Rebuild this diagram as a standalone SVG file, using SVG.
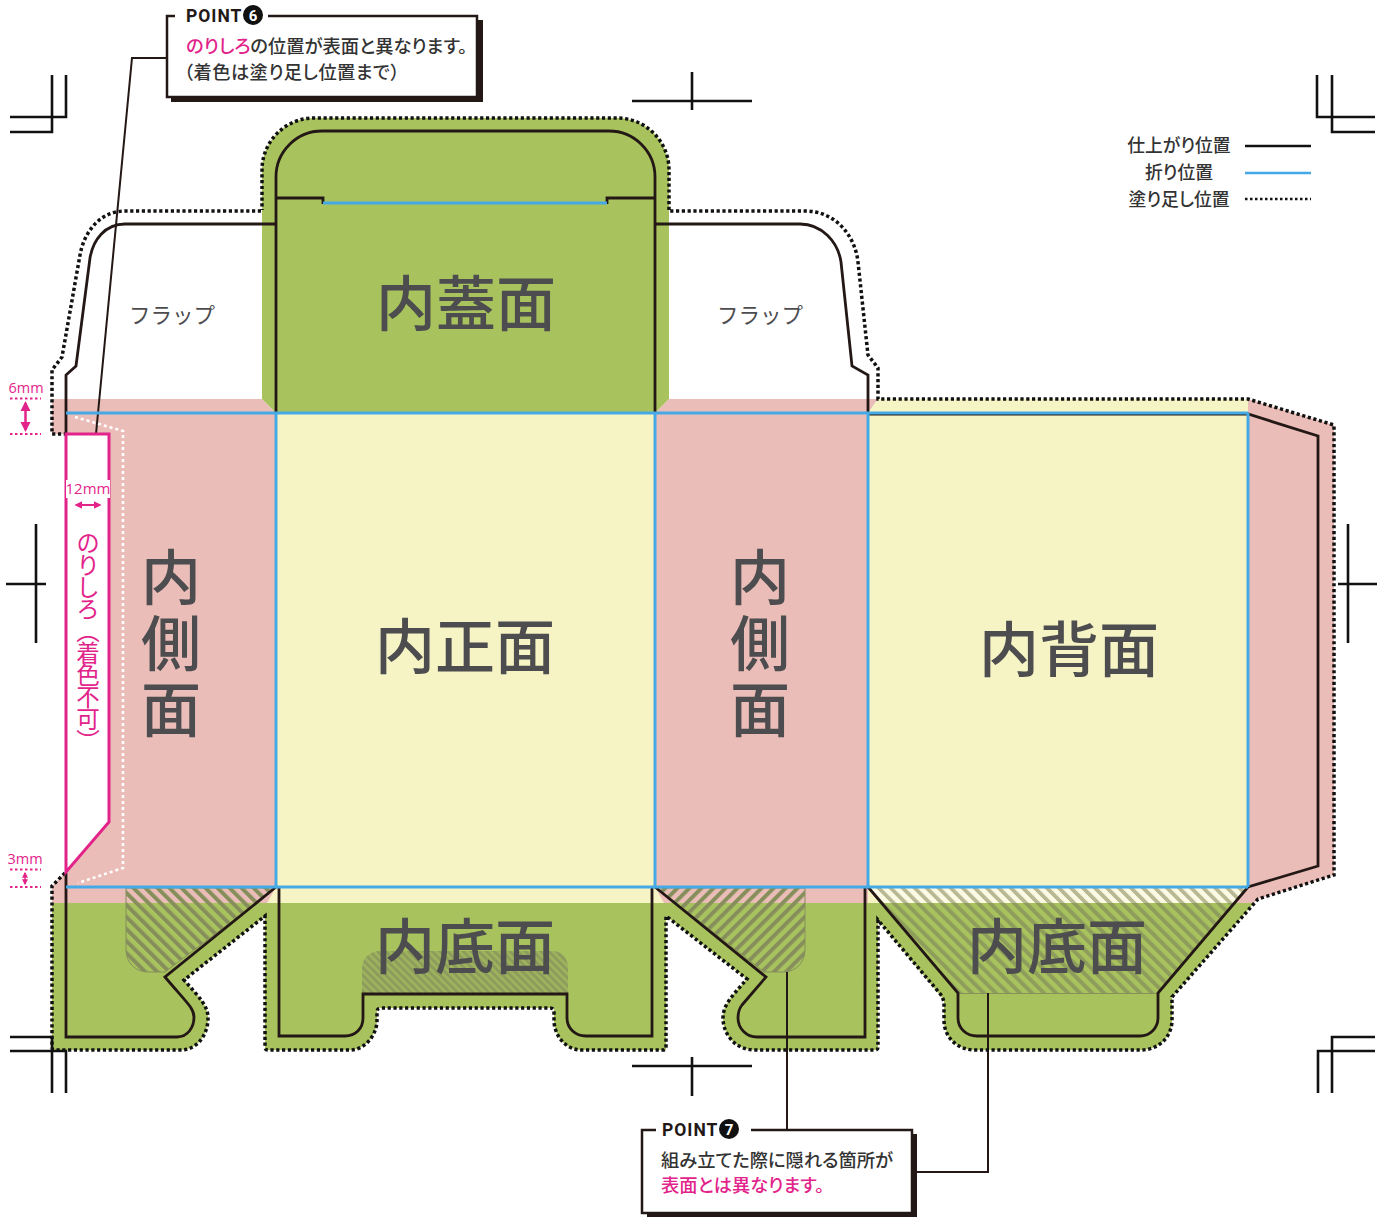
<svg xmlns="http://www.w3.org/2000/svg" width="1377" height="1221" viewBox="0 0 1377 1221">
<style>
text{font-family:"Noto Sans CJK JP","Noto Sans",sans-serif;fill:#4d4d4f}
.big{font-size:60px;text-anchor:middle;font-weight:500}
.vbig{font-size:60px;font-weight:500;writing-mode:vertical-rl;letter-spacing:6px}
.flap{font-size:21.500px;text-anchor:middle;font-weight:400}
.pink{fill:#e2248a}
.dim{font-size:14.500px;text-anchor:middle;fill:#e2248a;font-family:"Open Sans","Noto Sans",sans-serif}
.call{font-size:18.300px;fill:#333;font-weight:500;font-feature-settings:"palt"}
.pt{font-size:17.500px;font-weight:700;fill:#231815;font-family:"Roboto","Noto Sans",sans-serif;letter-spacing:1px}
.num{font-size:15px;font-weight:700;fill:#fff;text-anchor:middle;font-family:"Roboto",sans-serif}
.leg{font-size:17.800px;text-anchor:middle;fill:#333;font-weight:500;font-feature-settings:"palt"}
.cut{fill:none;stroke:#231815;stroke-width:2.800;stroke-linejoin:miter}
.fold{fill:none;stroke:#45a9e6;stroke-width:3}
.bleed{fill:none;stroke:#111;stroke-width:3.500;stroke-dasharray:3.200 2.600}
.crop{fill:none;stroke:#111;stroke-width:2.600}
.lead{fill:none;stroke:#231815;stroke-width:2}
.box{fill:#fff;stroke:#231815;stroke-width:2.500}
.dimline{fill:none;stroke:#e2248a;stroke-width:2;stroke-dasharray:2.500 2.500}
.arr{fill:none;stroke:#e2248a;stroke-width:2.500;marker-start:url(#ah);marker-end:url(#ah)}
</style>
<defs>
<marker id="ah" viewBox="0 0 10 10" refX="8" refY="5" markerWidth="4" markerHeight="5" orient="auto-start-reverse"><path d="M0,0L10,5L0,10z" fill="#e2248a"/></marker>
<pattern id="hBack" width="8.500" height="8.500" patternUnits="userSpaceOnUse" patternTransform="rotate(-45 0 0)"><rect width="4" height="8.500" fill="#6f7058" opacity=".45"/></pattern>
<pattern id="hWhite" width="8.500" height="8.500" patternUnits="userSpaceOnUse" patternTransform="rotate(-45 0 0)"><rect x="4" width="4.500" height="8.500" fill="#fff" opacity=".55"/></pattern>
<pattern id="hL" width="8.500" height="8.500" patternUnits="userSpaceOnUse" patternTransform="rotate(-45 0 0)"><rect width="4" height="8.500" fill="#868f5c"/></pattern>
<pattern id="hR" width="8.500" height="8.500" patternUnits="userSpaceOnUse" patternTransform="rotate(45 0 0)"><rect width="4" height="8.500" fill="#868f5c"/></pattern>
<pattern id="hF" width="5.500" height="5.500" patternUnits="userSpaceOnUse" patternTransform="rotate(-45 0 0)"><rect width="5.500" height="5.500" fill="#6f7058" opacity=".2"/><rect width="2.700" height="5.500" fill="#6f7058" opacity=".35"/></pattern>
</defs>

<g id="fills">
<path d="M52,399H262L276,413V903H52V886L66,872V434H52Z" fill="#ebbdb8"/>
<path d="M276,413H655L664,903H267L276,887Z" fill="#f6f4c5"/>
<path d="M669,399H868L878,399L868,413V903H664L655,887V413Z" fill="#ebbdb8"/>
<path d="M878,399H1248V887L1233,903H868V413Z" fill="#f6f4c5"/>
<path d="M1248,399L1334,425V875L1258,899L1254,903H1236L1248,887Z" fill="#ebbdb8"/>
<path d="M262,399V170A52,52 0 0 1 314,118H617A52,52 0 0 1 669,170V399L655,413H276Z" fill="#a8c35e"/>
<path d="M52,903V1050H180C198,1050 208,1034 208,1018C208,1006 200,998 184,980L265,916V1050H350C365,1050 377,1035 377,1020V1008H554V1020C554,1035 565,1050 582,1050H666V916L747,979C730,998 723,1006 723,1018C723,1034 735,1050 755,1050H878V920L944,1000V1020C944,1038 958,1050 975,1050H1140C1160,1050 1172,1036 1172,1020V997L1254,903Z" fill="#a8c35e"/>
<path d="M66,434H109V822L66,872Z" fill="#fff"/>
</g>

<g id="hatches">
<path d="M126,888H276L165,972H148C135,972 126,962 126,950Z" fill="url(#hL)" stroke="#868f5c" stroke-width="1"/>
<path d="M657,888H805V950C805,962 796,972 784,972H764Z" fill="url(#hR)" stroke="#868f5c" stroke-width="1"/>
<path d="M868,888H1248L1158,993H958Z" fill="url(#hBack)"/>
<path d="M870,888H1246L1233,903H882Z" fill="url(#hWhite)"/>
<path d="M958,993.500H1158" stroke="#6f7058" stroke-width="1" opacity=".6" fill="none"/>
<path d="M362,994V968C362,958 370,951 380,951H552C562,951 568,958 568,968V994Z" fill="url(#hF)"/>
</g>

<g id="crop-marks">
<path class="crop" d="M66,75V117H10M52,75V132H10"/>
<path class="crop" d="M1317,75V117H1375M1332,75V132H1375"/>
<path class="crop" d="M10,1037H52V1093M10,1051H66V1093"/>
<path class="crop" d="M1375,1037H1332V1093M1375,1051H1318V1093"/>
<path class="crop" d="M632,101H752M692,72V110"/>
<path class="crop" d="M632,1066H752M692,1057V1096"/>
<path class="crop" d="M6,584H46M36,524V643"/>
<path class="crop" d="M1338,584H1377M1348,524V643"/>
</g>

<g id="connectors">
<path class="lead" d="M166,58H132L96,434"/>
<path class="lead" d="M787,972V1130"/>
<path class="lead" d="M988,993V1172H912"/>
</g>

<g id="outlines">
<path class="bleed" d="M65,873L52,886V1047Q52,1050 55,1050H180C198,1050 208,1034 208,1018C208,1006 200,998 184,980L265,916V1047Q265,1050 268,1050H350C365,1050 377,1035 377,1020V1012Q377,1008 381,1008H550Q554,1008 554,1012V1020C554,1035 565,1050 582,1050H663Q666,1050 666,1047V916L747,979C730,998 723,1006 723,1018C723,1034 735,1050 755,1050H875Q878,1050 878,1047V920L942,996L944,1002V1020C944,1038 958,1050 975,1050H1140C1160,1050 1172,1036 1172,1020V997L1258,899L1334,875V425L1248,399H878V368L868,355L858,262C855,235 835,211 805,211H670"/>
<path class="bleed" d="M669,210V170A52,52 0 0 0 617,118H314A52,52 0 0 0 262,170V210"/>
<path class="bleed" d="M261,211H125C100,211 84,232 80,255L62,357L52,370V434H65"/>
<path class="cut" d="M66,873V1037H177C188,1037 194,1027 194,1017C194,1008 186,1002 165,977L276,887"/>
<path class="cut" d="M279,887V1036H345C356,1036 363,1028 363,1018V994H567V1018C567,1028 575,1036 586,1036H652V887"/>
<path class="cut" d="M655,887L766,977L742,1005C738,1010 738,1014 738,1018C738,1028 746,1037 757,1037H865V887"/>
<path class="cut" d="M868,887L958,993V1018C958,1028 966,1036 977,1036H1140C1150,1036 1158,1028 1158,1018V993L1248,887L1318,866V436L1248,414H868"/>
<path class="cut" d="M276,413V177A46,46 0 0 1 322,131H609A46,46 0 0 1 655,177V413"/>
<path class="cut" d="M276,198H323V204M607,204V198H655"/>
<path class="cut" d="M276,224H125C105,224 93,240 90,258L76,366L66,375V433"/>
<path class="cut" d="M655,224H800C822,224 838,242 841,262L852,366L868,375V413"/>
<path class="fold" d="M66,413H1248M66,887H1248M276,413V887M655,413V887M868,413V887M1248,413V887M323,203H607"/>
</g>

<g id="glue-tab">
<path d="M75,417L123,431V868L78,883" fill="none" stroke="#fff" stroke-width="2.600" stroke-dasharray="3 3"/>
<path d="M66,434H109V822L66,872Z" fill="none" stroke="#e2248a" stroke-width="3"/>
<rect x="66" y="480" width="44" height="18" fill="#fff"/>
<text class="dim" x="88" y="494" style="font-size:15px">12mm</text>
<path class="arr" d="M76,505H100" style="stroke-width:2"/>
<text x="88" y="531" class="pink" style="writing-mode:vertical-rl;font-size:23.500px;font-weight:400;letter-spacing:-1.500px">のりしろ（着色不可）</text>
</g>

<g id="dimensions">
<text class="dim" x="26" y="393">6mm</text>
<path class="dimline" d="M10,398.500H41M10,434H41"/>
<path class="arr" d="M25.500,403V430"/>
<text class="dim" x="25" y="864">3mm</text>
<path class="dimline" d="M10,869.500H41M10,887H41"/>
<path class="arr" d="M25,873V884" style="stroke-width:1.500"/>
</g>

<g id="panel-labels">
<text class="big" x="466" y="326">内蓋面</text>
<text class="big" x="465" y="669">内正面</text>
<text class="big" x="1069" y="672">内背面</text>
<text class="big" x="465" y="969">内底面</text>
<text class="big" x="1057" y="969">内底面</text>
<text class="vbig" x="171" y="547">内側面</text>
<text class="vbig" x="760" y="547">内側面</text>
<text class="flap" x="172" y="323">フラップ</text>
<text class="flap" x="760" y="323">フラップ</text>
</g>

<g id="legend">
<text class="leg" x="1179" y="152">仕上がり位置</text>
<text class="leg" x="1179" y="179">折り位置</text>
<text class="leg" x="1179" y="206">塗り足し位置</text>
<path d="M1245,146H1311" stroke="#111" stroke-width="2.500" fill="none"/>
<path d="M1245,173H1311" stroke="#45a9e6" stroke-width="2.500" fill="none"/>
<path d="M1245,199H1311" stroke="#111" stroke-width="2.500" stroke-dasharray="2.500 2.500" fill="none"/>
</g>

<g id="point6">
<rect x="171" y="20" width="312" height="82" fill="#231815"/>
<rect class="box" x="167" y="16" width="310" height="81"/>
<rect x="175" y="10" width="93" height="12" fill="#fff"/>
<text class="pt" x="186" y="22">POINT</text>
<circle cx="253" cy="15" r="10" fill="#111"/>
<text class="num" x="253" y="20.500">6</text>
<text class="call" x="186" y="53"><tspan class="pink">のりしろ</tspan>の位置が表面と異なります。</text>
<text class="call" x="184" y="79" style="letter-spacing:.4px">（着色は塗り足し位置まで）</text>
</g>

<g id="point7">
<rect x="647" y="1134" width="270" height="83" fill="#231815"/>
<rect class="box" x="642" y="1130" width="270" height="83"/>
<rect x="656" y="1124" width="95" height="12" fill="#fff"/>
<text class="pt" x="662" y="1136">POINT</text>
<circle cx="729" cy="1129" r="10" fill="#111"/>
<text class="num" x="729" y="1134.500">7</text>
<text class="call" x="661" y="1167">組み立てた際に隠れる箇所が</text>
<text class="call pink" x="661" y="1192" style="fill:#e2248a">表面とは異なります。</text>
</g>
</svg>
